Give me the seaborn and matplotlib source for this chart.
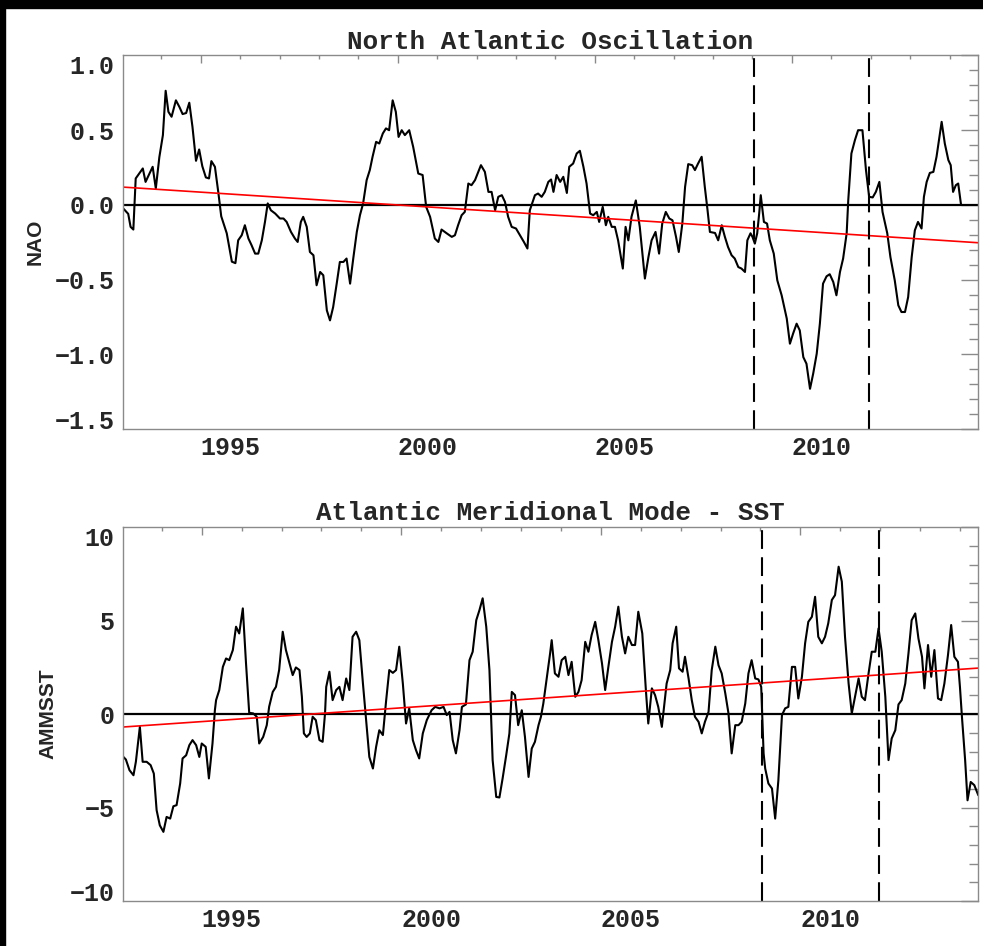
import matplotlib
matplotlib.use("Agg")
import matplotlib.pyplot as plt
from matplotlib.patches import Rectangle
from matplotlib.ticker import MultipleLocator
import seaborn as sns
import pandas as pd

# North Atlantic Oscillation
nao_years = [1993.02, 1993.16, 1993.22, 1993.29, 1993.35, 1993.44, 1993.53, 1993.60, 1993.70, 1993.78,
             1993.86, 1993.95, 1994.04, 1994.11, 1994.18, 1994.26, 1994.37, 1994.46, 1994.54, 1994.63,
             1994.71, 1994.79, 1994.88, 1994.96, 1995.04, 1995.13, 1995.21, 1995.27, 1995.36, 1995.45,
             1995.52, 1995.66, 1995.79, 1995.88, 1995.95, 1996.04, 1996.12, 1996.21, 1996.29, 1996.38,
             1996.46, 1996.55, 1996.63, 1996.70, 1996.78, 1996.89, 1997.01, 1997.10, 1997.18, 1997.29,
             1997.39, 1997.46, 1997.54, 1997.60, 1997.69, 1997.77, 1997.86, 1997.94, 1998.03, 1998.11,
             1998.20, 1998.28, 1998.36, 1998.45, 1998.53, 1998.62, 1998.70, 1998.79, 1998.87, 1998.96,
             1999.04, 1999.12, 1999.21, 1999.29, 1999.36, 1999.45, 1999.53, 1999.62, 1999.70, 1999.78,
             1999.87, 1999.95, 2000.02, 2000.10, 2000.18, 2000.29, 2000.39, 2000.52, 2000.63, 2000.72,
             2000.82, 2000.94, 2001.03, 2001.11, 2001.24, 2001.37, 2001.45, 2001.53, 2001.62, 2001.70,
             2001.79, 2001.87, 2001.96, 2002.11, 2002.21, 2002.30, 2002.38, 2002.47, 2002.55, 2002.64,
             2002.72, 2002.80, 2002.89, 2003.00, 2003.10, 2003.20, 2003.29, 2003.35, 2003.48, 2003.56,
             2003.65, 2003.73, 2003.82, 2003.89, 2003.95, 2004.03, 2004.12, 2004.20, 2004.29, 2004.35,
             2004.45, 2004.54, 2004.62, 2004.71, 2004.79, 2004.88, 2004.96, 2005.05, 2005.11, 2005.20,
             2005.28, 2005.34, 2005.43, 2005.51, 2005.59, 2005.71, 2005.78, 2005.85, 2005.93, 2006.04,
             2006.14, 2006.27, 2006.36, 2006.44, 2006.54, 2006.63, 2006.71, 2006.80, 2006.89, 2006.97,
             2007.06, 2007.13, 2007.22, 2007.29, 2007.37, 2007.47, 2007.54, 2007.62, 2007.71, 2007.79,
             2007.86, 2007.92, 2008.05, 2008.13, 2008.22, 2008.30, 2008.38, 2008.47, 2008.55, 2008.64,
             2008.72, 2008.81, 2008.87, 2008.95, 2009.00, 2009.06, 2009.12, 2009.17, 2009.21, 2009.29,
             2009.37, 2009.44, 2009.54, 2009.63, 2009.74, 2009.87, 2009.95, 2010.03, 2010.12, 2010.20,
             2010.29, 2010.37, 2010.46, 2010.54, 2010.63, 2010.71, 2010.79, 2010.88, 2010.96, 2011.05,
             2011.13, 2011.22, 2011.30, 2011.39, 2011.43, 2011.51, 2011.60, 2011.68, 2011.79, 2011.88,
             2011.96, 2012.05, 2012.13, 2012.22, 2012.30, 2012.42, 2012.50, 2012.61, 2012.70, 2012.78,
             2012.87, 2012.95, 2013.04, 2013.12, 2013.20, 2013.29, 2013.35, 2013.42, 2013.50, 2013.59,
             2013.67, 2013.80, 2013.88, 2013.97, 2014.03, 2014.09, 2014.16, 2014.22, 2014.29]
nao_values = [-0.02, -0.06, -0.147, -0.165, 0.177, 0.21, 0.244, 0.154, 0.21, 0.255,
              0.11, 0.32, 0.467, 0.764, 0.623, 0.59, 0.70, 0.655, 0.608, 0.615,
              0.684, 0.523, 0.295, 0.371, 0.259, 0.184, 0.177, 0.293, 0.255, 0.076,
              -0.076, -0.19, -0.38, -0.39, -0.237, -0.203, -0.136, -0.225, -0.27, -0.326,
              -0.326, -0.237, -0.114, 0.01, -0.036, -0.058, -0.091, -0.091, -0.114, -0.181,
              -0.225, -0.248, -0.114, -0.08, -0.147, -0.315, -0.337, -0.538, -0.449, -0.471,
              -0.706, -0.773, -0.684, -0.527, -0.382, -0.382, -0.359, -0.527, -0.359, -0.181,
              -0.069, 0.01, 0.166, 0.233, 0.322, 0.422, 0.411, 0.478, 0.512, 0.5,
              0.70, 0.623, 0.455, 0.5, 0.467, 0.5, 0.389, 0.21, 0.2, -0.013,
              -0.08, -0.225, -0.248, -0.165, -0.19, -0.214, -0.203, -0.136, -0.069, -0.047,
              0.143, 0.132, 0.166, 0.266, 0.221, 0.087, 0.087, -0.036, 0.054, 0.065,
              0.02, -0.08, -0.147, -0.158, -0.203, -0.248, -0.292, -0.036, 0.065, 0.076,
              0.054, 0.087, 0.154, 0.17, 0.087, 0.2, 0.154, 0.188, 0.08, 0.255,
              0.277, 0.344, 0.362, 0.255, 0.143, -0.058, -0.069, -0.047, -0.114, -0.013,
              -0.136, -0.08, -0.147, -0.147, -0.237, -0.426, -0.147, -0.237, -0.08, 0.03,
              -0.147, -0.493, -0.349, -0.237, -0.181, -0.326, -0.125, -0.047, -0.091, -0.103,
              -0.214, -0.315, -0.125, 0.121, 0.273, 0.266, 0.233, 0.277, 0.322, 0.121,
              -0.036, -0.181, -0.188, -0.237, -0.136, -0.214, -0.282, -0.337, -0.359, -0.416,
              -0.426, -0.449, -0.237, -0.19, -0.214, -0.259, -0.19, -0.058, 0.065, -0.114,
              -0.125, -0.237, -0.326, -0.505, -0.605, -0.761, -0.929, -0.862, -0.795, -0.84,
              -1.019, -1.063, -1.231, -1.13, -0.996, -0.795, -0.527, -0.478, -0.464, -0.516,
              -0.605, -0.449, -0.359, -0.19, 0.03, 0.344, 0.434, 0.5, 0.5, 0.233,
              0.054, 0.05, 0.087, 0.154, -0.047, -0.19, -0.349, -0.505, -0.672, -0.717,
              -0.717, -0.617, -0.349, -0.17, -0.114, -0.158, 0.054, 0.154, 0.214, 0.221,
              0.322, 0.556, 0.411, 0.3, 0.266, 0.087, 0.132, 0.143, 0.005]

# Atlantic Meridional Mode SST index
amm_years = [1993.02, 1993.10, 1993.19, 1993.29, 1993.35, 1993.45, 1993.52, 1993.62, 1993.72, 1993.80,
             1993.87, 1993.95, 1994.04, 1994.12, 1994.21, 1994.29, 1994.37, 1994.46, 1994.52, 1994.61,
             1994.69, 1994.77, 1994.86, 1994.94, 1995.00, 1995.10, 1995.18, 1995.27, 1995.33, 1995.36,
             1995.44, 1995.53, 1995.61, 1995.69, 1995.78, 1995.86, 1995.94, 1996.03, 1996.11, 1996.19,
             1996.29, 1996.38, 1996.44, 1996.54, 1996.63, 1996.69, 1996.78, 1996.86, 1996.94, 1997.03,
             1997.11, 1997.20, 1997.28, 1997.36, 1997.45, 1997.51, 1997.56, 1997.63, 1997.71, 1997.78,
             1997.86, 1997.95, 1998.03, 1998.09, 1998.12, 1998.20, 1998.28, 1998.37, 1998.45, 1998.53,
             1998.62, 1998.70, 1998.78, 1998.87, 1998.95, 1999.04, 1999.12, 1999.20, 1999.29, 1999.37,
             1999.45, 1999.54, 1999.62, 1999.70, 1999.79, 1999.87, 1999.95, 2000.04, 2000.12, 2000.20,
             2000.29, 2000.37, 2000.45, 2000.54, 2000.64, 2000.76, 2000.85, 2000.96, 2001.06, 2001.14,
             2001.21, 2001.29, 2001.37, 2001.46, 2001.52, 2001.62, 2001.71, 2001.79, 2001.88, 2001.96,
             2002.04, 2002.13, 2002.21, 2002.29, 2002.38, 2002.46, 2002.54, 2002.63, 2002.71, 2002.77,
             2002.85, 2002.93, 2003.02, 2003.10, 2003.19, 2003.27, 2003.35, 2003.44, 2003.50, 2003.56,
             2003.65, 2003.73, 2003.77, 2003.85, 2003.94, 2004.02, 2004.11, 2004.19, 2004.27, 2004.36,
             2004.44, 2004.52, 2004.61, 2004.69, 2004.77, 2004.86, 2004.94, 2005.03, 2005.11, 2005.19,
             2005.28, 2005.36, 2005.44, 2005.53, 2005.61, 2005.69, 2005.78, 2005.86, 2005.94, 2006.04,
             2006.13, 2006.19, 2006.28, 2006.36, 2006.44, 2006.53, 2006.65, 2006.74, 2006.80, 2006.89,
             2006.96, 2007.05, 2007.11, 2007.20, 2007.28, 2007.36, 2007.45, 2007.53, 2007.61, 2007.70,
             2007.78, 2007.87, 2007.95, 2008.03, 2008.12, 2008.20, 2008.28, 2008.37, 2008.45, 2008.53,
             2008.62, 2008.70, 2008.78, 2008.87, 2008.95, 2009.02, 2009.08, 2009.12, 2009.20, 2009.29,
             2009.37, 2009.45, 2009.54, 2009.62, 2009.70, 2009.79, 2009.87, 2009.95, 2010.04, 2010.12,
             2010.20, 2010.29, 2010.37, 2010.45, 2010.54, 2010.62, 2010.70, 2010.79, 2010.87, 2010.96,
             2011.04, 2011.12, 2011.21, 2011.29, 2011.37, 2011.46, 2011.54, 2011.62, 2011.71, 2011.79,
             2011.88, 2011.96, 2012.04, 2012.13, 2012.21, 2012.29, 2012.38, 2012.46, 2012.54, 2012.63,
             2012.71, 2012.79, 2012.88, 2012.96, 2013.05, 2013.11, 2013.20, 2013.28, 2013.36, 2013.45,
             2013.53, 2013.61, 2013.70, 2013.78, 2013.86, 2013.95, 2014.00, 2014.05, 2014.13, 2014.19,
             2014.27, 2014.36, 2014.46]
amm_values = [-2.25, -2.43, -3.0, -3.27, -2.55, -0.68, -2.55, -2.55, -2.73, -3.18,
              -5.14, -5.95, -6.30, -5.50, -5.59, -4.93, -4.87, -3.71, -2.37, -2.20,
              -1.66, -1.39, -1.66, -2.29, -1.57, -1.75, -3.44, -1.57, 0.21, 0.75,
              1.29, 2.53, 2.98, 2.89, 3.43, 4.68, 4.32, 5.66, 2.72, 0.07,
              0.04, -0.14, -1.57, -1.22, -0.59, 0.4, 1.19, 1.46, 2.36, 4.41,
              3.43, 2.72, 2.09, 2.50, 2.36, 0.93, -1.03, -1.22, -1.03, -0.14,
              -0.32, -1.39, -1.48, 0.04, 1.46, 2.27, 0.75, 1.29, 1.46, 0.75,
              1.91, 1.29, 4.14, 4.41, 3.96, 1.64, -0.32, -2.29, -2.91, -1.75,
              -0.86, -1.12, 0.7, 2.36, 2.21, 2.36, 3.61, 1.64, -0.50, 0.31,
              -1.39, -1.93, -2.37, -1.03, -0.32, 0.21, 0.39, 0.31, 0.39, -0.05,
              0.12, -1.39, -2.10, -0.86, 0.39, 0.52, 2.89, 3.34, 5.03, 5.57,
              6.20, 4.68, 2.36, -2.46, -4.43, -4.46, -3.44, -2.20, -1.03, 1.19,
              1.02, -0.59, 0.21, -1.22, -3.36, -1.84, -1.48, -0.59, -0.14, 0.57,
              2.0, 3.25, 3.96, 2.18, 2.0, 2.89, 3.07, 2.09, 2.80, 0.93,
              1.19, 1.82, 3.87, 3.34, 4.23, 4.94, 3.96, 2.72, 1.29, 2.53,
              3.87, 4.68, 5.75, 4.14, 3.25, 4.14, 3.70, 3.70, 5.48, 4.32,
              1.29, -0.50, 1.38, 1.02, 0.39, -0.68, 1.64, 2.36, 3.79, 4.68,
              2.45, 2.27, 3.07, 1.91, 0.75, -0.14, -0.41, -1.03, -0.41, 0.12,
              2.36, 3.61, 2.62, 2.18, 1.11, 0.04, -2.10, -0.59, -0.59, -0.41,
              0.57, 2.18, 2.89, 1.91, 1.86, 1.46, -2.10, -2.91, -3.71, -3.98,
              -5.59, -3.54, -0.05, 0.31, 0.39, 2.53, 2.53, 0.84, 2.0, 3.79,
              4.94, 5.21, 6.28, 4.14, 3.79, 4.14, 4.86, 6.11, 6.37, 7.89,
              7.09, 4.14, 1.64, 0.04, 0.93, 1.91, 0.93, 0.75, 2.18, 3.34,
              3.34, 4.59, 3.34, 0.93, -2.46, -1.30, -0.86, 0.52, 0.75, 1.64,
              3.25, 5.03, 5.39, 4.05, 3.07, 1.38, 3.70, 2.0, 3.43, 0.84,
              0.75, 1.64, 3.16, 4.77, 3.07, 2.80, 1.46, -0.14, -2.46, -4.61,
              -3.63, -3.80, -4.34]

event_years = [2009.04, 2011.96]
year_ticks = [1995, 2000, 2005, 2010]

sns.set_style("white")
plt.rcParams["font.family"] = ["Liberation Mono", "DejaVu Sans Mono"]
plt.rcParams["font.weight"] = "bold"

GRAY = "#8a8a8a"
W, H = 983, 946

fig = plt.figure(figsize=(W / 100, H / 100), dpi=100, facecolor="white")
# black frame strips at the top and left edge of the screenshot
fig.patches.append(Rectangle((0, 1 - 8 / H), 1, 8 / H, transform=fig.transFigure, color="black", zorder=10))
fig.patches.append(Rectangle((0, 0), 5 / W, 1, transform=fig.transFigure, color="black", zorder=10))

ax_top = fig.add_axes([122.7 / W, 1 - 429 / H, (978.3 - 122.7) / W, (429 - 55.5) / H])
ax_bot = fig.add_axes([122.7 / W, 1 - 901 / H, (978.3 - 122.7) / W, (901 - 527.3) / H])


def draw_panel(ax, years, values, title, ylabel, xlim, ylim, yticks, yminor, label_x):
    df = pd.DataFrame({"year": years, "value": values})
    ax.set_xlim(xlim)
    ax.set_ylim(ylim)
    sns.lineplot(data=df, x="year", y="value", ax=ax, color="black", lw=1.5,
                 estimator=None, sort=False)
    ax.axhline(0, color="black", lw=1.6)
    sns.regplot(data=df, x="year", y="value", ax=ax, scatter=False, ci=None,
                truncate=False, color="red", line_kws={"lw": 1.2})
    for yr in event_years:
        ax.axvline(yr, color="black", lw=1.5, dashes=(9, 4))
    ax.set_xlim(xlim)
    ax.set_ylim(ylim)

    ax.set_xticks(year_ticks)
    ax.xaxis.set_minor_locator(MultipleLocator(1))
    ax.set_yticks(yticks)
    ax.yaxis.set_minor_locator(MultipleLocator(yminor))
    ax.tick_params(which="both", direction="in", top=True, right=True, color=GRAY, width=1)
    ax.tick_params(axis="x", which="major", length=6, pad=5, labelsize=18)
    ax.tick_params(axis="x", which="minor", length=3)
    ax.tick_params(axis="y", which="major", length=12, pad=6, labelsize=18)
    ax.tick_params(axis="y", which="minor", length=6.5)
    for lab in ax.get_xticklabels():
        lab.set_ha("left")
    # end labels pushed inside the axis range, as in the original
    yt = ax.yaxis.get_major_ticks()
    yt[0].label1.set_va("baseline")
    yt[-1].label1.set_va("top")

    for sp in ax.spines.values():
        sp.set_color(GRAY)
        sp.set_linewidth(1)

    ax.set_title(title, fontsize=18.7, fontweight="bold", pad=5)
    ax.set_xlabel("")
    ax.set_ylabel(ylabel, fontsize=15, fontweight="bold", family="Liberation Sans")
    ax.yaxis.label.set_va("center")
    ax.yaxis.set_label_coords(label_x, 0.5)


draw_panel(ax_top, nao_years, nao_values, "North Atlantic Oscillation", "NAO",
           (1993.02, 2014.73), (-1.5, 1.0), [-1.5, -1.0, -0.5, 0.0, 0.5, 1.0], 0.1, -0.1025)
draw_panel(ax_bot, amm_years, amm_values, "Atlantic Meridional Mode - SST", "AMMSST",
           (1993.02, 2014.46), (-10, 10), [-10, -5, 0, 5, 10], 1, -0.0873)

fig.savefig("out.png", dpi=100)
